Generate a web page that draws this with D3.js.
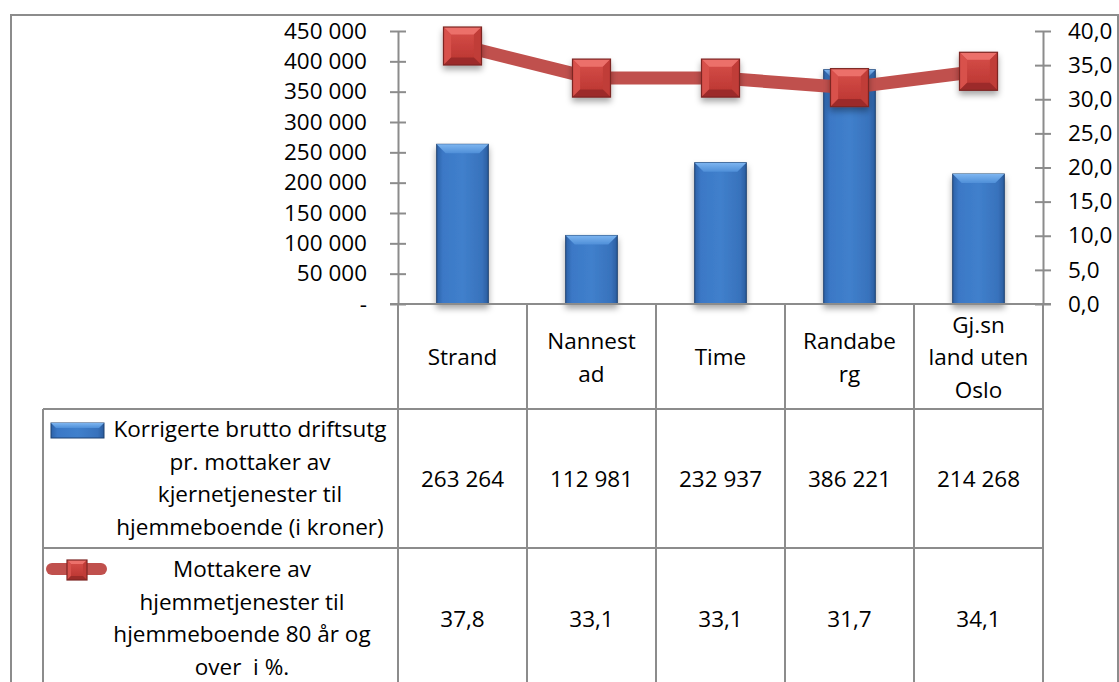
<!DOCTYPE html>
<html>
<head>
<meta charset="utf-8">
<script src="https://cdn.jsdelivr.net/npm/d3@7"></script>
<style>
  body { margin: 0; background: #fff; }
  text { font-family: "Open Sans", sans-serif; fill: #000; white-space: pre; }
</style>
</head>
<body>
<svg id="chart" width="1119" height="682"></svg>
<script>
// data
var categories = ["Strand", "Nannestad", "Time", "Randaberg", "Gj.sn land uten Oslo"];
var categoryLines = [["Strand"], ["Nannest", "ad"], ["Time"], ["Randabe", "rg"], ["Gj.sn", "land uten", "Oslo"]];
var costValues = [263264, 112981, 232937, 386221, 214268];
var shareValues = [37.8, 33.1, 33.1, 31.7, 34.1];
var costTicks = [0, 50000, 100000, 150000, 200000, 250000, 300000, 350000, 400000, 450000];
var shareTicks = [0, 5, 10, 15, 20, 25, 30, 35, 40];
var costLabel = ["Korrigerte brutto driftsutg", "pr. mottaker av", "kjernetjenester til", "hjemmeboende (i kroner)"];
var shareLabel = ["Mottakere av", "hjemmetjenester til", "hjemmeboende 80 år og", "over  i %."];

var svg = d3.select("#chart");
var fontSize = 22.5;
var grey = "#8c8c8c";

// layout
var plot = { left: 398, right: 1043, top: 31, bottom: 304 };
var rowY = [304, 409, 548, 700];
var legendLeft = 43;

var nf = d3.formatLocale({ decimal: ",", thousands: " ", grouping: [3], currency: ["", ""] });
var fmtCost = nf.format(",d");
var fmtShare = nf.format(".1f");

var x = d3.scaleBand().domain(categories).range([plot.left, plot.right]);
var yL = d3.scaleLinear().domain([0, 450000]).range([plot.bottom, plot.top]);
var yR = d3.scaleLinear().domain([0, 40]).range([plot.bottom, plot.top]);

// defs: gradients + shadow
var defs = svg.append("defs");
var bg = defs.append("linearGradient").attr("id", "barBody").attr("x1", 0).attr("x2", 1).attr("y1", 0).attr("y2", 0);
bg.append("stop").attr("offset", 0).attr("stop-color", "#2d62a8");
bg.append("stop").attr("offset", 0.12).attr("stop-color", "#3b78c6");
bg.append("stop").attr("offset", 0.5).attr("stop-color", "#4080cc");
bg.append("stop").attr("offset", 0.88).attr("stop-color", "#3872bc");
bg.append("stop").attr("offset", 1).attr("stop-color", "#2a5c9e");
var bt = defs.append("linearGradient").attr("id", "barTop").attr("x1", 0).attr("x2", 0).attr("y1", 0).attr("y2", 1);
bt.append("stop").attr("offset", 0).attr("stop-color", "#7db5f0");
bt.append("stop").attr("offset", 1).attr("stop-color", "#4f8fd8");
var mg = defs.append("linearGradient").attr("id", "mkBody").attr("x1", 0).attr("x2", 0).attr("y1", 0).attr("y2", 1);
mg.append("stop").attr("offset", 0).attr("stop-color", "#d8504b");
mg.append("stop").attr("offset", 1).attr("stop-color", "#b8332f");
var sh = defs.append("filter").attr("id", "shadow").attr("x", "-30%").attr("y", "-30%").attr("width", "160%").attr("height", "170%");
sh.append("feDropShadow").attr("dx", 0).attr("dy", 4).attr("stdDeviation", 3).attr("flood-color", "#000").attr("flood-opacity", 0.35);

// outer border
svg.append("rect").attr("x", 11).attr("y", 15).attr("width", 1107).attr("height", 700)
  .attr("fill", "none").attr("stroke", grey).attr("stroke-width", 2);

// bars
function drawBar(g, x0, y0, w, h, bevel) {
  g.append("rect").attr("x", x0).attr("y", y0).attr("width", w).attr("height", h)
    .attr("fill", "url(#barBody)").attr("stroke", "#1d4170").attr("stroke-width", 1);
  var b = Math.min(bevel, h / 2);
  g.append("path")
    .attr("d", "M" + x0 + "," + y0 + "H" + (x0 + w) + "L" + (x0 + w - b) + "," + (y0 + b) + "H" + (x0 + b) + "Z")
    .attr("fill", "url(#barTop)");
}
var bw = x.bandwidth() * 0.4;
svg.append("g").selectAll("g").data(costValues).join("g")
  .attr("filter", "url(#shadow)")
  .each(function (d, i) {
    var cx = x(categories[i]) + x.bandwidth() / 2;
    drawBar(d3.select(this), cx - bw / 2, yL(d), bw, yL(0) - yL(d), 9);
  });

// axes (ticks cross the axis line)
var axL = svg.append("g").attr("transform", "translate(" + plot.left + ",0)")
  .call(d3.axisLeft(yL).tickValues(costTicks).tickSize(8).tickSizeOuter(0).tickPadding(23)
    .tickFormat(function (d) { return d === 0 ? "-" : fmtCost(d); }));
axL.selectAll(".tick line").attr("x1", 8);
axL.selectAll(".tick line, .domain").attr("stroke", grey).attr("stroke-width", 2);
axL.selectAll("text").style("font-size", fontSize + "px").attr("fill", "#000");

var axR = svg.append("g").attr("transform", "translate(" + plot.right + ",0)")
  .call(d3.axisRight(yR).tickValues(shareTicks).tickSize(8).tickSizeOuter(0).tickPadding(17)
    .tickFormat(fmtShare));
axR.selectAll(".tick line").attr("x1", -8);
axR.selectAll(".tick line, .domain").attr("stroke", grey).attr("stroke-width", 2);
axR.selectAll("text").style("font-size", fontSize + "px").attr("fill", "#000");

// table grid
var grid = svg.append("g").attr("stroke", grey).attr("stroke-width", 2);
grid.append("line").attr("x1", plot.left - 8).attr("x2", plot.right + 8).attr("y1", plot.bottom).attr("y2", plot.bottom);
var edges = categories.map(function (c) { return x(c); }).concat([plot.right]);
grid.selectAll(".v").data(edges).join("line")
  .attr("x1", function (d) { return d; }).attr("x2", function (d) { return d; })
  .attr("y1", plot.bottom).attr("y2", rowY[3]);
grid.selectAll(".h").data([rowY[1], rowY[2]]).join("line")
  .attr("x1", legendLeft).attr("x2", plot.right).attr("y1", function (d) { return d; }).attr("y2", function (d) { return d; });
grid.append("line").attr("x1", legendLeft).attr("x2", legendLeft).attr("y1", rowY[1]).attr("y2", rowY[3]);

// line series
var lineGen = d3.line()
  .x(function (d, i) { return x(categories[i]) + x.bandwidth() / 2; })
  .y(function (d) { return yR(d); });
svg.append("path").datum(shareValues).attr("d", lineGen)
  .attr("fill", "none").attr("stroke", "#c0504d").attr("stroke-width", 13).attr("stroke-linejoin", "round");

function drawMarker(g, cx, cy, s) {
  var h = s / 2, b = s * 0.2;
  var x0 = cx - h, y0 = cy - h, x1 = cx + h, y1 = cy + h;
  g.append("rect").attr("x", x0).attr("y", y0).attr("width", s).attr("height", s).attr("fill", "url(#mkBody)");
  function face(pts, col) {
    g.append("path").attr("d", "M" + pts.map(function (p) { return p.join(","); }).join("L") + "Z").attr("fill", col);
  }
  face([[x0, y0], [x1, y0], [x1 - b, y0 + b], [x0 + b, y0 + b]], "#ec706b");
  face([[x0, y0], [x0 + b, y0 + b], [x0 + b, y1 - b], [x0, y1]], "#d8514c");
  face([[x1, y0], [x1, y1], [x1 - b, y1 - b], [x1 - b, y0 + b]], "#c03c38");
  face([[x0, y1], [x0 + b, y1 - b], [x1 - b, y1 - b], [x1, y1]], "#9c2c29");
  g.append("rect").attr("x", x0).attr("y", y0).attr("width", s).attr("height", s)
    .attr("fill", "none").attr("stroke", "#7d2523").attr("stroke-width", 1.2);
}
svg.append("g").selectAll("g").data(shareValues).join("g")
  .attr("filter", "url(#shadow)")
  .each(function (d, i) {
    drawMarker(d3.select(this), x(categories[i]) + x.bandwidth() / 2, yR(d), 38);
  });

// table text
var lh = 32.5;
function block(lines, cx, cy) {
  var t = svg.append("text").attr("text-anchor", "middle").style("font-size", fontSize + "px");
  var top = cy - (lines.length - 1) * lh / 2;
  lines.forEach(function (s, k) {
    t.append("tspan").attr("x", cx).attr("y", top + k * lh).attr("dy", "0.35em").text(s);
  });
}
categoryLines.forEach(function (lines, i) {
  var cx = x(categories[i]) + x.bandwidth() / 2;
  block(lines, cx, (rowY[0] + rowY[1]) / 2 + 1);
  block([fmtCost(costValues[i])], cx, 479);
  block([fmtShare(shareValues[i])], cx, 619);
});
block(costLabel, 250, 478);
block(shareLabel, 242, 618);

// legend keys
drawBar(svg.append("g"), 51, 423, 53, 15, 5);
svg.append("line").attr("x1", 52).attr("x2", 101).attr("y1", 569).attr("y2", 569)
  .attr("stroke", "#c0504d").attr("stroke-width", 12).attr("stroke-linecap", "round");
drawMarker(svg.append("g"), 77, 570, 20);
</script>
</body>
</html>
